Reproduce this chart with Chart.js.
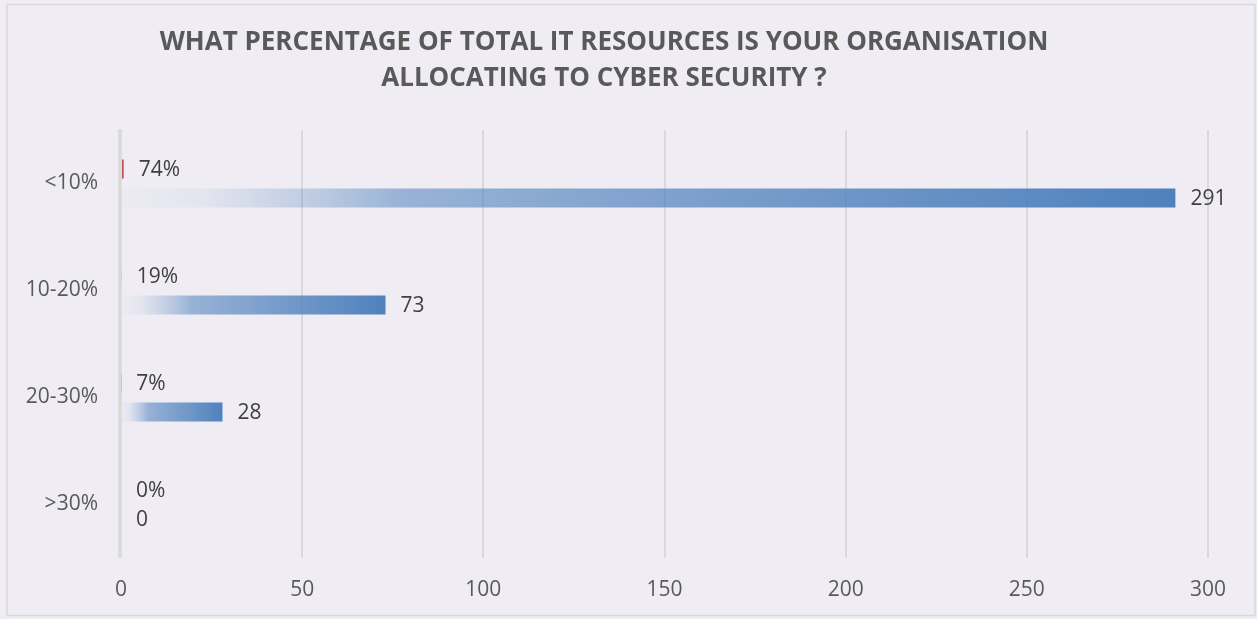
<!DOCTYPE html>
<html>
<head>
<meta charset="utf-8">
<script src="https://cdn.jsdelivr.net/npm/chart.js@4"></script>
<style>
  html, body { margin: 0; padding: 0; background: #efedf3; }
  #wrap { width: 1257px; height: 619px; position: relative; }
</style>
</head>
<body>
<div id="wrap"><canvas id="barChart" width="1257" height="619"></canvas></div>
<script>
var categories = ['<10%', '10-20%', '20-30%', '>30%'];
var shareValues = [0.74, 0.19, 0.07, 0];
var responseCounts = [291, 73, 28, 0];
var xTickValues = [0, 50, 100, 150, 200, 250, 300];

var textGrey = '#595959';
var labelGrey = '#404040';
var baseFont = "'Open Sans', 'DejaVu Sans', sans-serif";

// blue bars fade in from the axis towards their end
function blueGradient(context) {
    var chart = context.chart;
    var x = chart.scales.x;
    if (!chart.chartArea || !x) return '#4f81bd';
    var value = context.raw || 0;
    var x0 = x.getPixelForValue(0);
    var x1 = x.getPixelForValue(value);
    if (x1 - x0 < 1) return '#4f81bd';
    var g = chart.ctx.createLinearGradient(x0, 0, x1, 0);
    g.addColorStop(0, 'rgba(79,129,189,0.02)');
    g.addColorStop(0.08, 'rgba(79,129,189,0.08)');
    g.addColorStop(0.18, 'rgba(79,129,189,0.3)');
    g.addColorStop(0.27, 'rgba(79,129,189,0.55)');
    g.addColorStop(1, 'rgba(79,129,189,1)');
    return g;
}

var backdrop = {
    id: 'backdrop',
    beforeDraw: function (chart) {
        var ctx = chart.ctx;
        ctx.save();
        ctx.fillStyle = '#efedf3';
        ctx.fillRect(0, 0, chart.width, chart.height);
        ctx.strokeStyle = '#d9d9d9';
        ctx.lineWidth = 1.5;
        ctx.strokeRect(7, 4.5, 1248, 611);
        ctx.restore();
    }
};

// vertical axis line sits just left of zero, over the bar starts
var zeroLine = {
    id: 'zeroLine',
    afterDatasetsDraw: function (chart) {
        var ctx = chart.ctx;
        var area = chart.chartArea;
        var x0 = chart.scales.x.getPixelForValue(0);
        ctx.save();
        ctx.strokeStyle = '#d9d9d9';
        ctx.lineWidth = 3.5;
        ctx.beginPath();
        ctx.moveTo(x0 - 1, area.top - 1);
        ctx.lineTo(x0 - 1, area.bottom);
        ctx.stroke();
        ctx.restore();
    }
};

// value labels next to the end of each bar
var barLabels = {
    id: 'barLabels',
    afterDatasetsDraw: function (chart) {
        var ctx = chart.ctx;
        ctx.save();
        ctx.font = '21px ' + baseFont;
        ctx.fillStyle = labelGrey;
        ctx.textAlign = 'left';
        ctx.textBaseline = 'middle';
        chart.data.datasets.forEach(function (ds, di) {
            var meta = chart.getDatasetMeta(di);
            meta.data.forEach(function (bar, i) {
                var v = ds.data[i];
                var text = di === 0 ? Math.round(v * 100) + '%' : String(v);
                ctx.fillText(text, bar.x + 15, bar.y + 1);
            });
        });
        ctx.restore();
    }
};

var ctxBar = document.getElementById('barChart').getContext('2d');
var barChart = new Chart(ctxBar, {
    type: 'bar',
    data: {
        labels: categories,
        datasets: [{
            label: 'Share',
            data: shareValues,
            backgroundColor: '#c0504d',
            categoryPercentage: 0.542,
            barPercentage: 0.655
        }, {
            label: 'Responses',
            data: responseCounts,
            backgroundColor: blueGradient,
            categoryPercentage: 0.542,
            barPercentage: 0.655
        }]
    },
    options: {
        indexAxis: 'y',
        responsive: false,
        animation: false,
        layout: {
            padding: { left: 0, right: 49, top: 0, bottom: 0 }
        },
        scales: {
            x: {
                min: 0,
                max: 300,
                afterBuildTicks: function (scale) {
                    scale.ticks = xTickValues.map(function (v) { return { value: v }; });
                },
                afterFit: function (scale) { scale.height = 61; },
                grid: {
                    color: function (c) { return c.tick.value === 0 ? 'rgba(0,0,0,0)' : '#d9d9d9'; },
                    lineWidth: 2,
                    drawTicks: false
                },
                border: { display: false },
                ticks: {
                    padding: 19,
                    color: textGrey,
                    font: { family: baseFont, size: 21 }
                }
            },
            y: {
                afterFit: function (scale) { scale.width = 121; },
                grid: { display: false, drawTicks: false },
                border: { display: false },
                ticks: {
                    padding: 23,
                    color: textGrey,
                    font: { family: baseFont, size: 21 }
                }
            }
        },
        plugins: {
            legend: { display: false },
            tooltip: { enabled: false },
            title: {
                display: true,
                text: ['WHAT PERCENTAGE OF TOTAL IT RESOURCES IS YOUR ORGANISATION',
                       'ALLOCATING TO CYBER SECURITY ?'],
                color: textGrey,
                font: { family: baseFont, size: 26, weight: 'bold', lineHeight: 1.365 },
                padding: { top: 25, bottom: 34 }
            }
        }
    },
    plugins: [backdrop, zeroLine, barLabels]
});
</script>
</body>
</html>
